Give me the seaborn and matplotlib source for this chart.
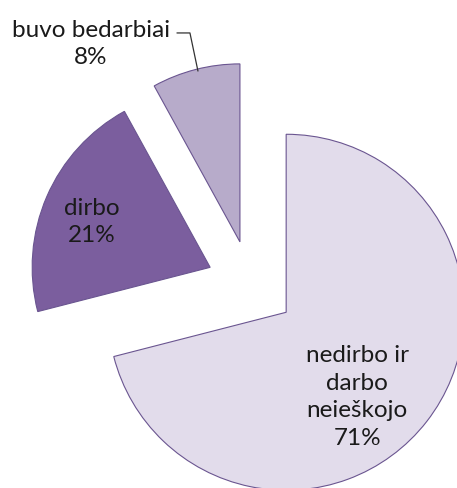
import numpy as np
import matplotlib
matplotlib.use("Agg")
import matplotlib.pyplot as plt
import seaborn as sns

labels = ["nedirbo ir\ndarbo\nneieškojo", "dirbo", "buvo bedarbiai"]
shares = [71, 21, 8]
colors = ["#E2DCEB", "#7B5E9E", "#B7ABCA"]

sns.set_theme(style="white")
plt.rcParams["font.family"] = ["Lato", "DejaVu Sans"]

fig = plt.figure(figsize=(4.57, 4.88), dpi=100)
ax = fig.add_axes([0, 0, 1, 1])
wedges, _ = ax.pie(shares, colors=colors, startangle=90, counterclock=False,
                   explode=[0.25, 0.25, 0.25], radius=1,
                   wedgeprops=dict(edgecolor="#6A5590", linewidth=0.8))
ax.set_xlim(-251 / 178, (457 - 251) / 178)
ax.set_ylim(-(488 - 285) / 178, 285 / 178)
ax.set_aspect("equal")
ax.axis("off")

txt = dict(ha="center", va="center", fontsize=17.5, color="#1a1a1a", linespacing=1.4)
ax.text(0.596, -0.629, f"{labels[0]}\n{shares[0]}%", **txt)
ax.text(-0.893, 0.354, f"{labels[1]}\n{shares[1]}%", **txt)
ax.text(-0.899, 1.354, f"{labels[2]}\n{shares[2]}%", **txt)
ax.plot([-0.416, -0.343, -0.298], [1.416, 1.416, 1.202], color="#333333", lw=0.9)

fig.savefig("out.png", dpi=100)
